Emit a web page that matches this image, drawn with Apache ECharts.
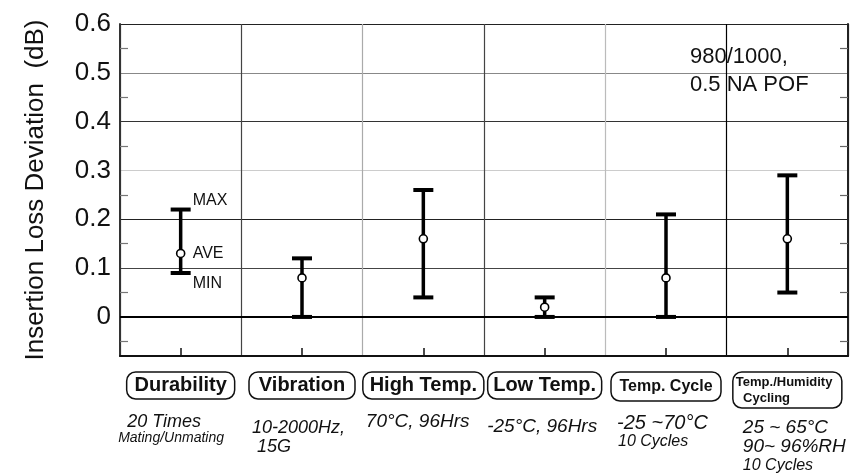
<!DOCTYPE html>
<html><head><meta charset="utf-8">
<script src="https://cdn.jsdelivr.net/npm/echarts@6/dist/echarts.min.js"></script>
<style>html,body{margin:0;padding:0;background:#fff}#c{width:858px;height:476px}</style>
</head><body><div id="c"></div>
<script>
// ---- data ----
const categories = ['Durability', 'Vibration', 'High Temp.', 'Low Temp.', 'Temp. Cycle', 'Temp./Humidity\n  Cycling'];
const conditions = [
  ['20 Times', 'Mating/Unmating'],
  ['10-2000Hz,', '15G'],
  ['70°C, 96Hrs'],
  ['-25°C, 96Hrs'],
  ['-25 ~70°C', '10 Cycles'],
  ['25 ~ 65°C', '90~ 96%RH', '10 Cycles']
];
const maxValues = [0.22, 0.12, 0.26, 0.04, 0.21, 0.29];
const aveValues = [0.13, 0.08, 0.16, 0.02, 0.08, 0.16];
const minValues = [0.09, 0.00, 0.04, 0.00, 0.00, 0.05];
const yTickLabels = ['0', '0.1', '0.2', '0.3', '0.4', '0.5', '0.6'];
const yMinorTicks = [-0.05, 0.05, 0.15, 0.25, 0.35, 0.45, 0.55];
const barLabels = ['MAX', 'AVE', 'MIN'];
const yAxisTitle = 'Insertion Loss Deviation  (dB)';
const note = '980/1000,\n0.5 NA POF';

// ---- styles ----
const FONT = 'Liberation Sans, Arial, sans-serif';
const boxWidths = [102, 100, 115, 108, 104, 103];
const boxFont = [20, 20, 20, 20, 16, 13];
const boxLineH = [23, 23, 23, 23, 25, 16];
const condWidths = [125, 100, 115, 115, 98, 89];
const condFonts = [[18, 14], [18, 18], [19], [19], [20, 16], [19, 19, 16]];
const condLineH = [[20, 12], [20, 18], [20], [20], [20, 18], [20, 18, 20]];
const condIndent = [[9, 0], [0, 5], [0], [0], [0, 1], [0, 0, 0]];
const condSpacer = [0, 6, 0, 5, 1, 6];

const boxRich = {};
categories.forEach((c, i) => {
  boxRich['b' + i] = {
    fontSize: boxFont[i], fontWeight: 'bold', lineHeight: boxLineH[i], width: boxWidths[i],
    align: i === 5 ? 'left' : 'center', color: '#111', fontFamily: FONT
  };
});
const condRich = {};
conditions.forEach((lines, i) => {
  condRich['s' + i] = {fontSize: 1, lineHeight: condSpacer[i], width: 1};
  lines.forEach((t, j) => {
    const ind = condIndent[i][j];
    condRich['c' + i + '_' + j] = {
      fontSize: condFonts[i][j], fontStyle: 'italic', lineHeight: condLineH[i][j],
      width: condWidths[i] - ind, align: 'left', color: '#111', fontFamily: FONT,
      padding: [0, 0, 0, ind]
    };
  });
});

const seriesData = categories.map((c, i) => [i, minValues[i], aveValues[i], maxValues[i]]);

const chart = echarts.init(document.getElementById('c'), null, {renderer: 'canvas'});
chart.setOption({
  animation: false,
  textStyle: {fontFamily: FONT, color: '#111'},
  title: {
    text: note, left: 690, top: 43, padding: 0,
    textStyle: {fontSize: 22, fontWeight: 'normal', color: '#111', lineHeight: 28, fontFamily: FONT}
  },
  grid: {left: 120, right: 10, top: 24, bottom: 120},
  xAxis: [
    {
      type: 'category', data: categories, boundaryGap: true,
      axisLine: {show: true, onZero: false, lineStyle: {color: '#111', width: 2}},
      axisTick: {show: true, inside: true, alignWithLabel: true, length: 8, lineStyle: {color: '#111', width: 1.5}},
      splitLine: {show: true, interval: 0, lineStyle: {color: ['#333', '#444', '#aaa', '#444', '#bbb', '#000', '#222'], width: 1.2}},
      axisLabel: {
        interval: 0, margin: 16, color: '#111',
        borderColor: '#111', borderWidth: 1.5, borderRadius: 9, padding: [2, 3, 2, 3],
        formatter: (v, i) => v.split('\n').map(s => '{b' + i + '|' + s + '}').join('\n'),
        rich: boxRich
      }
    },
    {
      type: 'category', data: categories, position: 'bottom',
      axisLine: {show: false, onZero: false}, axisTick: {show: false}, splitLine: {show: false},
      axisLabel: {
        interval: 0, margin: 56,
        formatter: (v, i) => (condSpacer[i] ? '{s' + i + '| }\n' : '') +
          conditions[i].map((t, j) => '{c' + i + '_' + j + '|' + t + '}').join('\n'),
        rich: condRich
      }
    }
  ],
  yAxis: [
    {
      type: 'value', min: -0.08, max: 0.6, splitNumber: 7,
      name: yAxisTitle, nameLocation: 'middle', nameGap: 71,
      nameTextStyle: {fontSize: 26, color: '#111', fontFamily: FONT},
      axisLine: {show: true, lineStyle: {color: '#333', width: 2}},
      axisTick: {show: false},
      axisLabel: {
        fontSize: 26, margin: 9, color: '#111',
        formatter: v => { const k = Math.round(v * 10); return (v < -1e-9 || Math.abs(v * 10 - k) > 1e-6) ? '' : yTickLabels[k]; }
      },
      splitLine: {show: true, lineStyle: {color: ['#000', '#000', '#444', '#222', '#ccc', '#333', '#888', '#222'], width: 1.2}}
    },
    {
      type: 'value', min: -0.08, max: 0.6, position: 'left',
      axisLine: {show: false}, axisLabel: {show: false}, splitLine: {show: false},
      axisTick: {show: true, inside: true, length: 8, customValues: yMinorTicks, lineStyle: {color: '#777', width: 1.2}}
    },
    {
      type: 'value', min: -0.08, max: 0.6, position: 'right',
      axisLine: {show: true, lineStyle: {color: '#222', width: 2}}, axisLabel: {show: false}, splitLine: {show: false},
      axisTick: {show: true, inside: true, length: 8, customValues: yMinorTicks, lineStyle: {color: '#666', width: 1.2}}
    }
  ],
  series: [{
    type: 'custom',
    data: seriesData,
    encode: {x: 0, y: [1, 2, 3]},
    markLine: {
      silent: true, symbol: 'none', label: {show: false},
      lineStyle: {color: '#000', width: 2, type: 'solid'},
      data: [{yAxis: 0}]
    },
    renderItem: (params, api) => {
      const i = api.value(0);
      const pMin = api.coord([i, api.value(1)]);
      const pAve = api.coord([i, api.value(2)]);
      const pMax = api.coord([i, api.value(3)]);
      const x = pAve[0];
      const st = {stroke: '#000', lineWidth: 3.5};
      const cap = {stroke: '#000', lineWidth: 4};
      const children = [
        {type: 'line', shape: {x1: x, y1: pMin[1], x2: x, y2: pMax[1]}, style: st},
        {type: 'line', shape: {x1: x - 10, y1: pMax[1], x2: x + 10, y2: pMax[1]}, style: cap},
        {type: 'line', shape: {x1: x - 10, y1: pMin[1], x2: x + 10, y2: pMin[1]}, style: cap},
        {type: 'circle', shape: {cx: x, cy: pAve[1], r: 4}, style: {fill: '#fff', stroke: '#000', lineWidth: 1.6}}
      ];
      if (params.dataIndex === 0) {
        const ts = {fontSize: 16, fill: '#111', fontFamily: FONT, align: 'left', verticalAlign: 'middle'};
        children.push({type: 'text', style: Object.assign({text: barLabels[0], x: x + 12, y: pMax[1] - 9}, ts)});
        children.push({type: 'text', style: Object.assign({text: barLabels[1], x: x + 12, y: pAve[1]}, ts)});
        children.push({type: 'text', style: Object.assign({text: barLabels[2], x: x + 12, y: pMin[1] + 11}, ts)});
      }
      return {type: 'group', children};
    }
  }]
});
</script>
</body></html>
